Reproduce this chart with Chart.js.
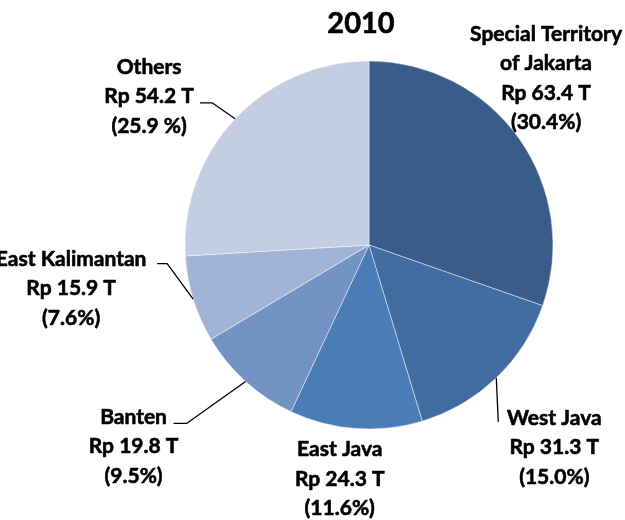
<!DOCTYPE html>
<html>
<head>
<meta charset="utf-8">
<script src="https://cdn.jsdelivr.net/npm/chart.js@4/dist/chart.umd.min.js"></script>
<style>
  html, body { margin: 0; padding: 0; background: #ffffff; }
  #wrap { width: 625px; height: 520px; position: relative; }
</style>
</head>
<body>
<div id="wrap"><canvas id="c" width="625" height="520"></canvas></div>
<script>
// Regional GDP share, 2010 (trillion rupiah)
const chartTitle = '2010';
const regionNames = [
  ['Special Territory', 'of Jakarta'],
  ['West Java'],
  ['East Java'],
  ['Banten'],
  ['East Kalimantan'],
  ['Others']
];
const valuesTrillion = [63.4, 31.3, 24.3, 19.8, 15.9, 54.2];
const sharePercent = [30.4, 15.0, 11.6, 9.5, 7.6, 25.9];
const sliceColors = ['#3A5C8A', '#416CA0', '#4A7CB7', '#7393C4', '#A1B4D6', '#C3CDE2'];

// Label placement: offset of the text block centre from the slice's outer mid-point,
// plus optional leader line (start and elbow relative to the text centre).
const labelLayout = [
  { dx: 27,   dy: -61,   leader: null },
  { dx: 58,   dy: 69,    leader: [[-56, -25]] },
  { dx: -16,  dy: 49.5,  leader: null },
  { dx: -112, dy: 64,    leader: [[40, -22], [53, -22]] },
  { dx: -122, dy: -11.5, leader: [[86, -24], [96, -24]] },
  { dx: -86,  dy: -23,   leader: [[51, 7], [63, 7]], pctGap: ' ' }
];

const FONT_FAMILY = 'Lato, "Open Sans", sans-serif';
const LABEL_SIZE = 21;
const TITLE_SIZE = 29;
const LINE_GAP = 29.5;

// draws text with a hairline outline so the bold face reads heavier
function heavyText(ctx, t, x, y) {
  ctx.strokeText(t, x, y);
  ctx.fillText(t, x, y);
}

const labelPlugin = {
  id: 'sliceLabels',
  afterDraw(chart) {
    const ctx = chart.ctx;
    const arcs = chart.getDatasetMeta(0).data;
    ctx.save();

    ctx.fillStyle = '#000';
    ctx.strokeStyle = '#000';
    ctx.lineJoin = 'round';
    ctx.lineWidth = 0.6;
    ctx.textAlign = 'center';
    ctx.textBaseline = 'alphabetic';

    // title
    ctx.font = 'bold ' + TITLE_SIZE + 'px ' + FONT_FAMILY;
    heavyText(ctx, chartTitle, 361, 22.5 + 0.36 * TITLE_SIZE);

    ctx.font = 'bold ' + LABEL_SIZE + 'px ' + FONT_FAMILY;
    arcs.forEach((arc, i) => {
      const mid = (arc.startAngle + arc.endAngle) / 2;
      const ex = arc.x + arc.outerRadius * Math.cos(mid);
      const ey = arc.y + arc.outerRadius * Math.sin(mid);
      const lay = labelLayout[i];
      const cx = ex + lay.dx;
      const cy = ey + lay.dy;

      const lines = regionNames[i].concat([
        'Rp ' + valuesTrillion[i].toFixed(1) + ' T',
        '(' + sharePercent[i].toFixed(1) + (lay.pctGap || '') + '%)'
      ]);
      const startY = cy - (lines.length - 1) * LINE_GAP / 2;
      ctx.lineWidth = 0.6;
      lines.forEach((t, k) => {
        heavyText(ctx, t, cx, startY + k * LINE_GAP + 0.36 * LABEL_SIZE);
      });

      if (lay.leader) {
        ctx.beginPath();
        ctx.lineWidth = 1.3;
        lay.leader.forEach((p, k) => {
          if (k === 0) ctx.moveTo(cx + p[0], cy + p[1]);
          else ctx.lineTo(cx + p[0], cy + p[1]);
        });
        ctx.lineTo(ex, ey);
        ctx.stroke();
      }
    });
    ctx.restore();
  }
};

new Chart(document.getElementById('c'), {
  type: 'pie',
  data: {
    labels: regionNames.map(n => n.join(' ')),
    datasets: [{
      data: valuesTrillion,
      backgroundColor: sliceColors,
      borderColor: 'rgba(255,255,255,0.45)',
      borderWidth: 1
    }]
  },
  options: {
    responsive: false,
    animation: false,
    layout: { padding: { left: 184.5, right: 71.5, top: 60.5, bottom: 90.5 } },
    plugins: {
      legend: { display: false },
      title: { display: false },
      tooltip: { enabled: false }
    }
  },
  plugins: [labelPlugin]
});
</script>
</body>
</html>
